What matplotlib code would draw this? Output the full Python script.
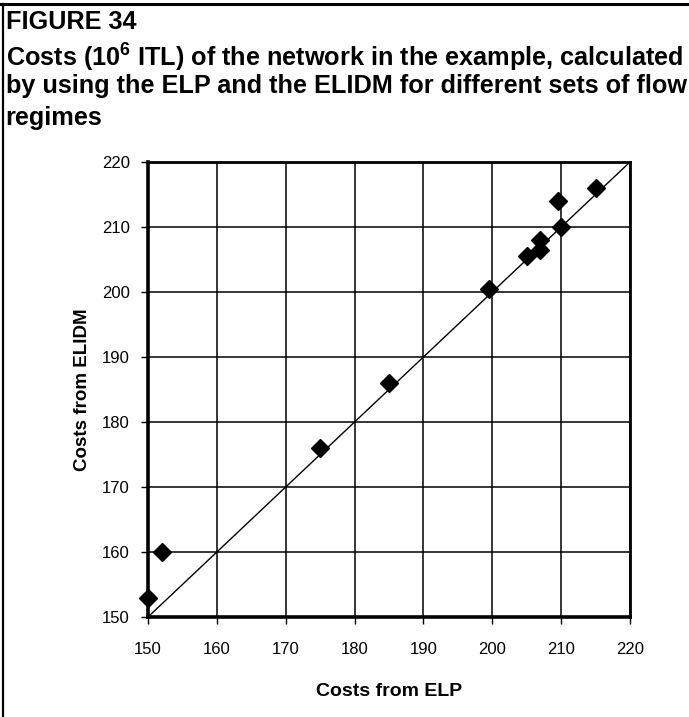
import matplotlib

matplotlib.use("Agg")
import matplotlib.pyplot as plt
from matplotlib.lines import Line2D

plt.rcParams["font.family"] = ["Liberation Sans", "DejaVu Sans"]
plt.rcParams["mathtext.fontset"] = "custom"
plt.rcParams["mathtext.rm"] = "Liberation Sans"
plt.rcParams["mathtext.bf"] = "Liberation Sans:bold"

# costs (10^6 ITL) per set of flow regimes
elp_costs = [150, 152, 175, 185, 199.5, 205, 207, 207, 210, 209.5, 215]
elidm_costs = [153, 160, 176, 186, 200.5, 205.5, 206.5, 208, 210, 214, 216]

ticks = [150, 160, 170, 180, 190, 200, 210, 220]

title_lines = [
    "FIGURE 34",
    r"Costs (10$\mathbf{^{6}}$ ITL) of the network in the example, calculated",
    "by using the ELP and the ELIDM for different sets of flow",
    "regimes",
]

fig = plt.figure(figsize=(6.89, 7.17), dpi=100)

for i, line in enumerate(title_lines):
    fig.text(0.008, 1 - (10 + 32 * i) / 717, line, ha="left", va="top",
             fontsize=18.2, fontweight="bold")

# page frame (top and left edges)
fig.add_artist(Line2D([0, 1], [1 - 4 / 717, 1 - 4 / 717], color="black", lw=2.2,
                      transform=fig.transFigure))
fig.add_artist(Line2D([3 / 689, 3 / 689], [0, 1 - 4 / 717], color="black", lw=1.6,
                      transform=fig.transFigure))

ax = fig.add_axes([148 / 689, 100 / 717, 482 / 689, 455 / 717])
ax.set_xlim(150, 220)
ax.set_ylim(150, 220)
ax.set_xticks(ticks)
ax.set_yticks(ticks)
ax.grid(True, color="black", lw=1.1)
ax.set_axisbelow(True)

ax.plot([150, 220], [150, 220], color="black", lw=1.0, zorder=3)
ax.plot(elp_costs, elidm_costs, linestyle="none", marker="D", markersize=9,
        color="black", zorder=4, clip_on=False)

for side in ("left", "bottom"):
    ax.spines[side].set_linewidth(2.6)
for side in ("top", "right"):
    ax.spines[side].set_linewidth(2.0)

ax.tick_params(direction="out", length=5, width=1, labelsize=12)
ax.tick_params(axis="x", pad=13)
ax.tick_params(axis="y", pad=8)
ax.set_xlabel("Costs from ELP", fontsize=14, fontweight="bold")
ax.set_ylabel("Costs from ELIDM", fontsize=13.5, fontweight="bold")
ax.xaxis.set_label_coords(0.5, -0.145)
ax.yaxis.set_label_coords(-0.118, 0.5)

fig.savefig("out.png", dpi=100, facecolor="white")
